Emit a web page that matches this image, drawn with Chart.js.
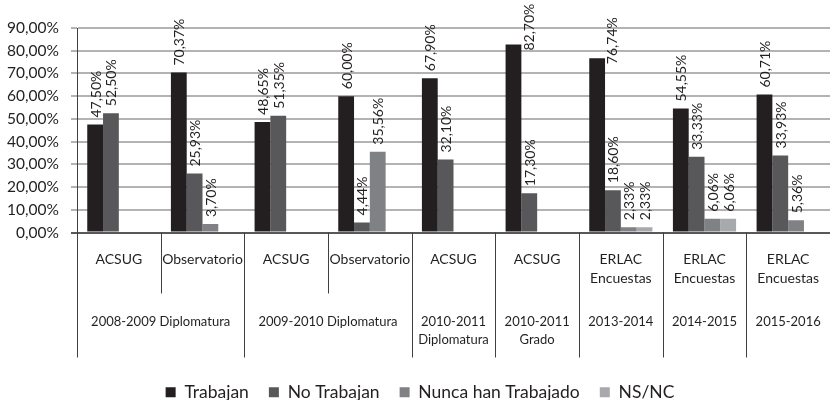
<!DOCTYPE html>
<html>
<head>
<meta charset="utf-8">
<script src="https://cdn.jsdelivr.net/npm/chart.js@4.4.1/dist/chart.umd.min.js"></script>
<style>
  html, body { margin: 0; padding: 0; background: #fff; }
  #wrap { width: 830px; height: 400px; }
</style>
</head>
<body>
<div id="wrap"><canvas id="chart"></canvas></div>
<script>
// source / category labels (first row under the axis)
const sources = ['ACSUG', 'Observatorio', 'ACSUG', 'Observatorio', 'ACSUG', 'ACSUG',
                 ['ERLAC', 'Encuestas'], ['ERLAC', 'Encuestas'], ['ERLAC', 'Encuestas']];
// course groups (second row) and how many categories each one covers
const groupLabels = [['2008-2009 Diplomatura'], ['2009-2010 Diplomatura'], ['2010-2011', 'Diplomatura'],
                     ['2010-2011', 'Grado'], ['2013-2014'], ['2014-2015'], ['2015-2016']];
const groupSpans = [2, 2, 1, 1, 1, 1, 1];

const trabajan       = [47.50, 70.37, 48.65, 60.00, 67.90, 82.70, 76.74, 54.55, 60.71];
const noTrabajan     = [52.50, 25.93, 51.35, 4.44, 32.10, 17.30, 18.60, 33.33, 33.93];
const nuncaTrabajado = [null, 3.70, null, 35.56, null, null, 2.33, 6.06, 5.36];
const nsnc           = [null, null, null, null, null, null, 2.33, 6.06, null];

const yTicks = [0, 10, 20, 30, 40, 50, 60, 70, 80, 90];

const FONT = 'Lato, "Open Sans", sans-serif';
const TEXT = '#231f20';

function pct(v) {
    return v.toFixed(2).replace('.', ',') + '%';
}

// value labels, rotated, above every bar (moved beside the bar when there is no room)
const barLabels = {
    id: 'barLabels',
    afterDatasetsDraw(chart) {
        const ctx = chart.ctx;
        ctx.save();
        ctx.font = '14px ' + FONT;
        ctx.fillStyle = TEXT;
        ctx.textAlign = 'left';
        ctx.textBaseline = 'middle';
        chart.data.datasets.forEach((ds, i) => {
            chart.getDatasetMeta(i).data.forEach((bar, j) => {
                const v = ds.data[j];
                if (v == null) return;
                const txt = pct(v);
                const len = ctx.measureText(txt).width;
                let lx = bar.x + 1, ly = bar.y - 7;
                if (ly - len < 6) {
                    lx = bar.x + bar.width;
                    ly = bar.y + 6;
                }
                ctx.save();
                ctx.translate(lx, ly);
                ctx.rotate(-Math.PI / 2);
                ctx.fillText(txt, 0, 0);
                ctx.restore();
            });
        });
        ctx.restore();
    }
};

// two level category axis with separators
const twoLevelAxis = {
    id: 'twoLevelAxis',
    afterDraw(chart) {
        const ctx = chart.ctx;
        const x = chart.scales.x;
        const area = chart.chartArea;
        const n = sources.length;
        const w = (area.right - area.left) / n;
        const bottom = area.bottom;
        ctx.save();
        ctx.strokeStyle = '#414042';
        ctx.lineWidth = 1;
        // left axis continues down
        ctx.beginPath();
        ctx.moveTo(area.left + 0.5, bottom);
        ctx.lineTo(area.left + 0.5, bottom + 125);
        ctx.stroke();

        // first row
        ctx.fillStyle = TEXT;
        ctx.textAlign = 'center';
        ctx.textBaseline = 'middle';
        ctx.font = '14px ' + FONT;
        sources.forEach((lab, i) => {
            const cx = x.getPixelForValue(i);
            const lines = Array.isArray(lab) ? lab : [lab];
            lines.forEach((l, k) => ctx.fillText(l, cx, bottom + 27 + k * 19));
        });

        // second row + separators
        ctx.font = '13px ' + FONT;
        let start = 0;
        groupSpans.forEach((span, g) => {
            const x0 = area.left + start * w;
            const x1 = area.left + (start + span) * w;
            // inner short separators
            for (let k = 1; k < span; k++) {
                const sx = Math.round(area.left + (start + k) * w) + 0.5;
                ctx.beginPath();
                ctx.moveTo(sx, bottom);
                ctx.lineTo(sx, bottom + 61);
                ctx.stroke();
            }
            const ex = Math.round(x1) + 0.5;
            ctx.beginPath();
            ctx.moveTo(ex, bottom);
            ctx.lineTo(ex, bottom + 125);
            ctx.stroke();
            groupLabels[g].forEach((l, k) => ctx.fillText(l, (x0 + x1) / 2, bottom + 89 + k * 18));
            start += span;
        });
        ctx.restore();
    }
};

new Chart(document.getElementById('chart').getContext('2d'), {
    type: 'bar',
    data: {
        labels: sources,
        datasets: [
            { label: 'Trabajan', data: trabajan, backgroundColor: '#231f20' },
            { label: 'No Trabajan', data: noTrabajan, backgroundColor: '#58585a' },
            { label: 'Nunca han Trabajado', data: nuncaTrabajado, backgroundColor: '#808184' },
            { label: 'NS/NC', data: nsnc, backgroundColor: '#a7a9ac' }
        ]
    },
    options: {
        responsive: true,
        maintainAspectRatio: false,
        animation: false,
        layout: { padding: { top: 28, left: 0, right: -10, bottom: -11 } },
        datasets: {
            bar: { categoryPercentage: 0.755, barPercentage: 1 }
        },
        scales: {
            x: {
                ticks: { display: false },
                grid: { display: false },
                border: { display: false },
                afterFit(scale) { scale.height = 131; }
            },
            y: {
                min: 0,
                max: 90,
                afterBuildTicks(scale) { scale.ticks = yTicks.map(v => ({ value: v })); },
                afterFit(scale) { scale.width = 77; },
                ticks: {
                    padding: 12,
                    color: TEXT,
                    font: { family: FONT, size: 15.5 },
                    callback: v => pct(v)
                },
                grid: {
                    color: c => c.tick && c.tick.value === 0 ? '#58585a' : '#b3b3b3',
                    lineWidth: 2,
                    tickLength: 6
                },
                border: { display: true, color: '#414042', width: 1 }
            }
        },
        plugins: {
            legend: {
                position: 'bottom',
                labels: {
                    boxWidth: 10,
                    boxHeight: 10,
                    padding: 20,
                    color: TEXT,
                    font: { family: FONT, size: 17.5 }
                }
            },
            tooltip: { enabled: false }
        }
    },
    plugins: [barLabels, twoLevelAxis]
});
</script>
</body>
</html>
